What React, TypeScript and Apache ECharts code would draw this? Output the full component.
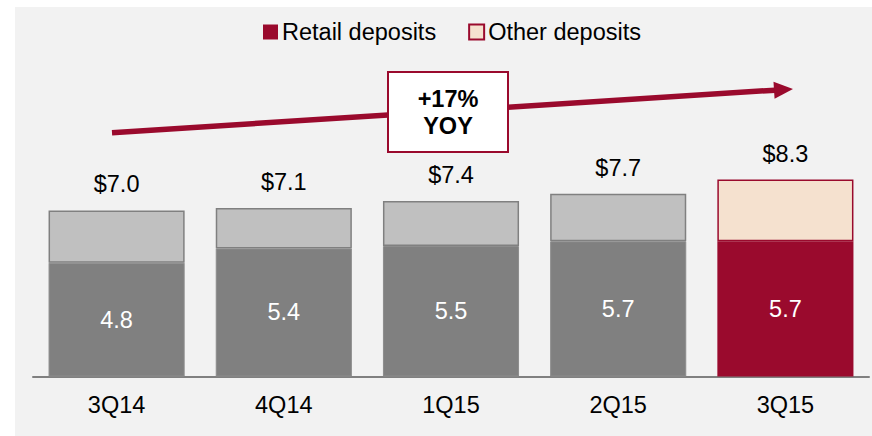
import React, { useEffect, useRef } from "react";
import * as echarts from "echarts";

const categories = ["3Q14", "4Q14", "1Q15", "2Q15", "3Q15"];
const retailDeposits = [4.8, 5.4, 5.5, 5.7, 5.7];
const otherDeposits = [2.2, 1.7, 1.9, 2.0, 2.6];
const totalLabels = ["$7.0", "$7.1", "$7.4", "$7.7", "$8.3"];
const growthLabel = "+17%\nYOY";

const RED = "#9a0a2d";
const PEACH = "#f5e1cf";
const DARK_GRAY = "#808080";
const LIGHT_GRAY = "#c0c0c0";
const FONT = "Liberation Sans, Arial, sans-serif";
const FS = 23.5;

export default function App() {
  const ref = useRef<HTMLDivElement>(null);

  useEffect(() => {
    if (!ref.current) return;
    const chart = echarts.init(ref.current, undefined, { renderer: "svg" });
    const last = categories.length - 1;

    // arrow geometry
    const x0 = 112, y0 = 132.7, tx = 793, ty = 89;
    const len = Math.hypot(tx - x0, ty - y0);
    const dx = (tx - x0) / len, dy = (ty - y0) / len;
    const headLen = 19, headHalf = 8.5;
    const bx = tx - headLen * dx, by = ty - headLen * dy;
    const nx = -dy, ny = dx;

    chart.setOption({
      animation: false,
      backgroundColor: "#ffffff",
      textStyle: { fontFamily: FONT },
      graphic: [
        {
          type: "rect",
          z: -10,
          silent: true,
          shape: { x: 15, y: 7, width: 857, height: 429 },
          style: { fill: "#f2f2f2" },
        },
        {
          type: "line",
          z: 10,
          shape: { x1: x0, y1: y0, x2: bx + 1 * dx, y2: by + 1 * dy },
          style: { stroke: RED, lineWidth: 5.5 },
        },
        {
          type: "polygon",
          z: 10,
          shape: {
            points: [
              [tx, ty],
              [bx + headHalf * nx, by + headHalf * ny],
              [bx - headHalf * nx, by - headHalf * ny],
            ],
          },
          style: { fill: RED },
        },
        {
          type: "rect",
          z: 11,
          shape: { x: 388, y: 72, width: 120, height: 80 },
          style: { fill: "#ffffff", stroke: RED, lineWidth: 2 },
        },
        {
          type: "text",
          z: 12,
          x: 448,
          y: 112.5,
          style: {
            text: growthLabel,
            fill: "#000000",
            font: `bold ${FS}px ${FONT}`,
            align: "center",
            verticalAlign: "middle",
            lineHeight: 27,
          },
        },
      ],
      legend: {
        left: 263,
        top: 20,
        padding: 0,
        itemWidth: 15,
        itemHeight: 15,
        itemGap: 32,
        icon: "rect",
        textStyle: { fontSize: FS, color: "#000000", fontFamily: FONT, padding: [0, 0, 0, -1] },
        data: ["Retail deposits", "Other deposits"],
      },
      grid: { left: 33, right: 3, top: 139.3, bottom: 59.5 },
      xAxis: {
        type: "category",
        data: categories,
        axisLine: { lineStyle: { color: DARK_GRAY, width: 2 } },
        axisTick: { show: false },
        axisLabel: { fontSize: FS, color: "#000000", margin: 16, fontFamily: FONT },
      },
      yAxis: { type: "value", min: 0, max: 10, show: false, splitLine: { show: false } },
      series: [
        {
          name: "Retail deposits",
          type: "bar",
          stack: "dep",
          barCategoryGap: "18.6%",
          itemStyle: { color: RED },
          data: retailDeposits.map((v, i) => ({
            value: v,
            itemStyle: i === last ? { color: RED } : { color: DARK_GRAY, borderColor: "#8c8c8c", borderWidth: 1 },
          })),
          label: {
            show: true,
            position: "inside",
            color: "#ffffff",
            fontSize: FS,
            fontFamily: FONT,
            formatter: (p: any) => p.value.toFixed(1),
          },
        },
        {
          name: "Other deposits",
          type: "bar",
          stack: "dep",
          barCategoryGap: "18.6%",
          itemStyle: { color: PEACH, borderColor: RED, borderWidth: 1.5 },
          data: otherDeposits.map((v, i) => ({
            value: v,
            itemStyle: i === last
              ? { color: PEACH, borderColor: RED, borderWidth: 1.5 }
              : { color: LIGHT_GRAY, borderColor: DARK_GRAY, borderWidth: 1.5 },
          })),
          label: {
            show: true,
            position: "top",
            distance: 14,
            color: "#000000",
            fontSize: FS,
            fontFamily: FONT,
            formatter: (p: any) => totalLabels[p.dataIndex],
          },
        },
      ],
    });
    return () => chart.dispose();
  }, []);

  return (
    <div
      ref={ref}
      style={{ position: "fixed", left: 0, top: 0, width: 872, height: 436 }}
    />
  );
}
